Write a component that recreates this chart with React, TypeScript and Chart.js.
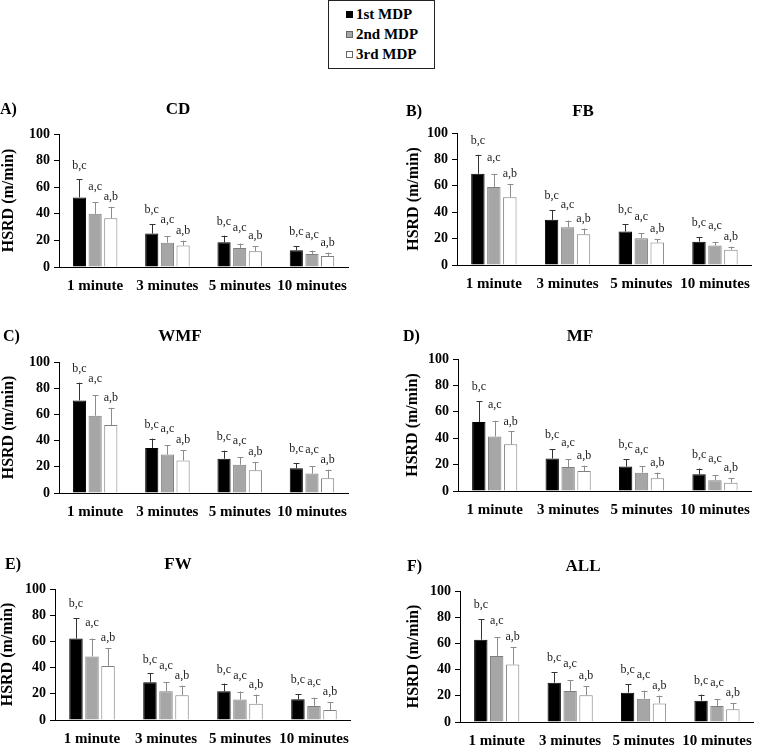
import React, { useEffect, useRef } from 'react';
import { Chart, registerables } from 'chart.js';

Chart.register(...registerables);

const CATEGORIES = ['1 minute', '3 minutes', '5 minutes', '10 minutes'];
const SERIES = ['1st MDP', '2nd MDP', '3rd MDP'];
const SIG = ['b,c', 'a,c', 'a,b'];
const Y_MIN = 0;
const Y_MAX = 100;
const Y_STEP = 20;
const Y_TITLE = 'HSRD (m/min)';

// A) CD
const CD_1ST = [52.3, 25.1, 18.6, 12.6];
const CD_1ST_SD = [13.5, 7.1, 5.0, 3.0];
const CD_2ND = [40.0, 18.3, 14.3, 9.8];
const CD_2ND_SD = [8.5, 4.8, 3.3, 2.5];
const CD_3RD = [36.7, 16.1, 11.8, 8.3];
const CD_3RD_SD = [8.5, 3.7, 3.8, 2.5];

// B) FB
const FB_1ST = [69.1, 34.2, 25.3, 17.7];
const FB_1ST_SD = [14.4, 7.3, 5.8, 3.3];
const FB_2ND = [59.0, 28.6, 20.3, 14.7];
const FB_2ND_SD = [10.1, 5.1, 3.8, 2.5];
const FB_3RD = [51.4, 23.3, 17.0, 11.6];
const FB_3RD_SD = [9.9, 4.3, 2.5, 2.3];

// C) WMF
const WMF_1ST = [70.7, 34.4, 26.2, 18.8];
const WMF_1ST_SD = [13.5, 7.1, 6.1, 4.1];
const WMF_2ND = [59.0, 29.3, 21.6, 14.8];
const WMF_2ND_SD = [15.8, 7.3, 5.9, 5.8];
const WMF_3RD = [51.9, 24.9, 17.3, 11.2];
const WMF_3RD_SD = [13.0, 7.9, 6.4, 6.6];

// D) MF
const MF_1ST = [52.2, 24.6, 18.5, 12.7];
const MF_1ST_SD = [15.9, 7.0, 5.6, 4.3];
const MF_2ND = [41.3, 18.2, 13.9, 8.1];
const MF_2ND_SD = [11.9, 5.9, 4.8, 3.8];
const MF_3RD = [35.4, 15.2, 9.6, 6.3];
const MF_3RD_SD = [9.7, 4.0, 4.3, 3.3];

// E) FW
const FW_1ST = [62.2, 28.8, 21.9, 15.8];
const FW_1ST_SD = [15.6, 6.7, 5.9, 3.8];
const FW_2ND = [48.5, 21.9, 15.6, 10.7];
const FW_2ND_SD = [13.7, 6.9, 6.1, 6.4];
const FW_3RD = [41.3, 18.9, 12.5, 7.7];
const FW_3RD_SD = [13.5, 7.4, 6.9, 5.8];

// F) ALL
const ALL_1ST = [62.8, 30.0, 22.4, 16.3];
const ALL_1ST_SD = [15.8, 8.2, 6.6, 4.6];
const ALL_2ND = [50.4, 23.7, 17.8, 12.2];
const ALL_2ND_SD = [14.5, 8.1, 6.1, 5.1];
const ALL_3RD = [43.8, 20.4, 14.2, 9.7];
const ALL_3RD_SD = [13.5, 7.1, 5.9, 4.8];

const FONT = "'Liberation Serif', 'Times New Roman', serif";
const FILL = ['#000000', '#a6a6a6', '#ffffff'];
const BORDER = ['#000000', '#7f7f7f', '#7f7f7f'];
const ERR = ['#333333', '#8c8c8c', '#8c8c8c'];
const LABEL_OFFSET = [14, 16, 10];

type PanelDef = {
  letter: string;
  title: string;
  means: number[][];
  sds: number[][];
  plot: [number, number, number, number];
  titleX: number;
  titleY: number;
  letterX: number;
  axisX: number;
};

const PANELS: PanelDef[] = [
  { letter: 'A)', title: 'CD', means: [CD_1ST, CD_2ND, CD_3RD], sds: [CD_1ST_SD, CD_2ND_SD, CD_3RD_SD], plot: [59, 134, 355, 267], titleX: 178, titleY: 110, letterX: 0, axisX: 8 },
  { letter: 'B)', title: 'FB', means: [FB_1ST, FB_2ND, FB_3RD], sds: [FB_1ST_SD, FB_2ND_SD, FB_3RD_SD], plot: [457, 133, 758, 265], titleX: 583, titleY: 112, letterX: 406, axisX: 413 },
  { letter: 'C)', title: 'WMF', means: [WMF_1ST, WMF_2ND, WMF_3RD], sds: [WMF_1ST_SD, WMF_2ND_SD, WMF_3RD_SD], plot: [59, 362, 355, 493], titleX: 180, titleY: 337, letterX: 3, axisX: 8 },
  { letter: 'D)', title: 'MF', means: [MF_1ST, MF_2ND, MF_3RD], sds: [MF_1ST_SD, MF_2ND_SD, MF_3RD_SD], plot: [458, 359, 758, 491], titleX: 580, titleY: 337, letterX: 403, axisX: 412 },
  { letter: 'E)', title: 'FW', means: [FW_1ST, FW_2ND, FW_3RD], sds: [FW_1ST_SD, FW_2ND_SD, FW_3RD_SD], plot: [55, 589, 357, 720], titleX: 178, titleY: 565, letterX: 5, axisX: 7 },
  { letter: 'F)', title: 'ALL', means: [ALL_1ST, ALL_2ND, ALL_3RD], sds: [ALL_1ST_SD, ALL_2ND_SD, ALL_3RD_SD], plot: [460, 591, 760, 722], titleX: 583, titleY: 567, letterX: 407, axisX: 413 },
];

function Panel({ p }: { p: PanelDef }) {
  const ref = useRef<HTMLCanvasElement>(null);
  const cLeft = p.axisX - 9;
  const cTop = p.titleY - 14;
  const cRight = p.plot[2] + 2;
  const cBottom = p.plot[3] + 30;
  const w = cRight - cLeft;
  const h = cBottom - cTop;

  useEffect(() => {
    if (!ref.current) return;
    const overlay = {
      id: 'overlay',
      afterDatasetsDraw(chart: any) {
        const ctx = chart.ctx;
        const ys = chart.scales.y;
        chart.data.datasets.forEach((ds: any, di: number) => {
          const meta = chart.getDatasetMeta(di);
          meta.data.forEach((bar: any, i: number) => {
            const top = ys.getPixelForValue(ds.data[i] + ds.sd[i]);
            ctx.save();
            ctx.strokeStyle = ERR[di];
            ctx.lineWidth = 1;
            ctx.beginPath();
            const bx = Math.round(bar.x) + 0.5;
            ctx.moveTo(bx, bar.y);
            ctx.lineTo(bx, top);
            ctx.moveTo(bx - 3, Math.round(top) + 0.5);
            ctx.lineTo(bx + 3, Math.round(top) + 0.5);
            ctx.stroke();
            ctx.fillStyle = '#222222';
            ctx.font = `12px ${FONT}`;
            ctx.textAlign = 'center';
            ctx.textBaseline = 'middle';
            ctx.fillText(SIG[di], bar.x, top - LABEL_OFFSET[di]);
            ctx.restore();
          });
        });
        ctx.save();
        ctx.fillStyle = '#000000';
        ctx.textBaseline = 'middle';
        ctx.font = `bold 17px ${FONT}`;
        ctx.textAlign = 'center';
        ctx.fillText(p.title, p.titleX - cLeft, p.titleY - cTop);
        ctx.font = `bold 16px ${FONT}`;
        ctx.textAlign = 'left';
        ctx.fillText(p.letter, p.letterX - cLeft, p.titleY - cTop);
        ctx.restore();
      },
    };

    const chart = new Chart(ref.current, {
      type: 'bar',
      data: {
        labels: CATEGORIES,
        datasets: SERIES.map((name, di) => ({
          label: name,
          data: p.means[di],
          sd: p.sds[di],
          backgroundColor: FILL[di],
          borderColor: BORDER[di],
          borderWidth: 1,
          categoryPercentage: 0.65,
          barPercentage: 0.84,
        })) as any,
      },
      options: {
        animation: false,
        responsive: false,
        devicePixelRatio: 1,
        layout: {
          padding: { top: p.plot[1] - cTop, right: cRight - p.plot[2], left: 0, bottom: 0 },
        },
        plugins: {
          legend: { display: false },
          tooltip: { enabled: false },
        },
        scales: {
          x: {
            type: 'category',
            offset: true,
            grid: { display: false, drawTicks: false },
            border: { display: true, color: '#000000', width: 1 },
            ticks: {
              color: '#000000',
              font: { family: FONT, size: 15, weight: 'bold' },
              padding: 10,
              maxRotation: 0,
              autoSkip: false,
            },
            afterFit: (s: any) => {
              s.height = cBottom - p.plot[3];
            },
          },
          y: {
            min: Y_MIN,
            max: Y_MAX,
            ticks: {
              stepSize: Y_STEP,
              color: '#000000',
              font: { family: FONT, size: 14, weight: 'bold' },
              padding: 4,
            },
            grid: { drawOnChartArea: false, drawTicks: true, tickLength: 5, color: '#000000' },
            border: { display: true, color: '#000000', width: 1 },
            title: {
              display: true,
              text: Y_TITLE,
              color: '#000000',
              font: { family: FONT, size: 16, weight: 'bold' },
              padding: { top: 0, bottom: 0 },
            },
            afterFit: (s: any) => {
              s.width = p.plot[0] - cLeft;
            },
          },
        },
      } as any,
      plugins: [overlay],
    });
    return () => chart.destroy();
  }, []);

  return (
    <canvas
      ref={ref}
      width={w}
      height={h}
      style={{ position: 'absolute', left: cLeft, top: cTop, width: w, height: h }}
    />
  );
}

function Legend() {
  const sq = (di: number) => (
    <span
      style={{
        display: 'inline-block',
        width: 7,
        height: 7,
        background: FILL[di],
        border: `1px solid ${di === 0 ? '#000' : '#666'}`,
        marginRight: 3,
        boxSizing: 'border-box',
      }}
    />
  );
  return (
    <div
      style={{
        position: 'absolute',
        left: 328,
        top: 0,
        width: 107,
        height: 69,
        border: '1.5px solid #222',
        boxSizing: 'border-box',
        fontFamily: FONT,
        fontWeight: 'bold',
        fontSize: 15,
        color: '#000',
        background: '#fff',
      }}
    >
      {SERIES.map((s, di) => (
        <div
          key={s}
          style={{
            position: 'absolute',
            left: 17,
            top: 3 + di * 20,
            height: 20,
            display: 'flex',
            alignItems: 'center',
            whiteSpace: 'nowrap',
          }}
        >
          {sq(di)}
          <span>{s}</span>
        </div>
      ))}
    </div>
  );
}

export default function App() {
  return (
    <div
      style={{
        position: 'fixed',
        left: 0,
        top: 0,
        width: 762,
        height: 745,
        background: '#ffffff',
        overflow: 'hidden',
      }}
    >
      <Legend />
      {PANELS.map((p) => (
        <Panel key={p.title} p={p} />
      ))}
    </div>
  );
}
